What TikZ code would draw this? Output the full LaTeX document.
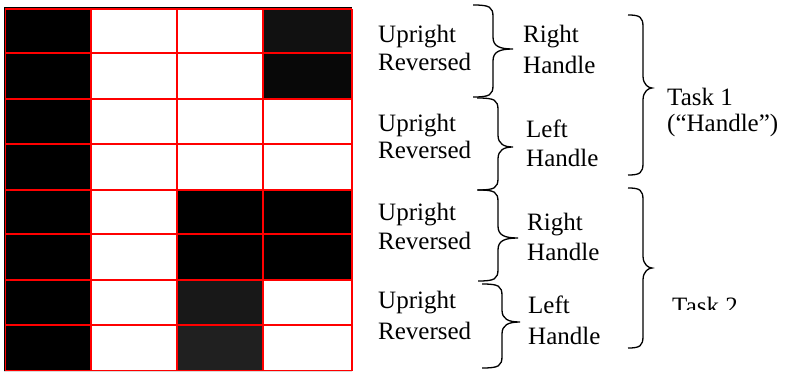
\documentclass[tikz,border=0pt]{standalone}
\usepackage{xcolor}
\usepackage{fontspec}
\setmainfont{Liberation Serif}
\usepackage{tikz}

\definecolor{darkA}{HTML}{111111}
\definecolor{darkB}{HTML}{080808}
\definecolor{darkC}{HTML}{181818}
\definecolor{darkD}{HTML}{202020}

% #1 x of ends, #2 x of stem, #3 x of tip, #4 y top, #5 y tip, #6 y bottom
\newcommand{\curlybr}[6]{%
  \draw[brcline] (#1,#4) .. controls (#2-3,#4) and (#2,#4+2) .. (#2,#4+12)
    -- (#2,#5-12) .. controls (#2,#5-3) and (#2+6,#5) .. (#3,#5)
    .. controls (#2+6,#5) and (#2,#5+3) .. (#2,#5+12)
    -- (#2,#6-12) .. controls (#2,#6-2) and (#2-3,#6) .. (#1,#6);}

\begin{document}
\begin{tikzpicture}[x=1pt,y=-1pt,font=\fontsize{25}{28}\selectfont,
  gridline/.style={red,line width=1.2pt},
  lbl/.style={anchor=base west,inner sep=0pt},
  brcline/.style={black,line width=1.3pt}]
  \useasboundingbox (0,0) rectangle (787,372);
  % the stimulus grid
  \fill[black] (5,9) rectangle (91,371);
  \fill[darkA] (263,9) rectangle (352,53);
  \fill[darkB] (263,53) rectangle (352,99);
  \fill[black] (177,190) rectangle (352,280);
  \fill[darkC] (177,280) rectangle (263,325);
  \fill[darkD] (177,325) rectangle (263,371);
  \foreach \y in {9,53,99,144,190,234,280,325,371}
    \draw[gridline] (5,\y) -- (352,\y);
  \foreach \x in {5,91,177,263,352}
    \draw[gridline] (\x,9) -- (\x,371);
  \draw[black,line width=1pt] (4,371) -- (4,7) -- (352,7);
  \draw[gray!30,line width=1pt] (4,371.7) -- (352,371.7);
  % orientations
  \node[lbl] (up1)  at (378,42)  {Upright};
  \node[lbl] (rev1) at (378,70)  {Reversed};
  \node[lbl] (up2)  at (378,131) {Upright};
  \node[lbl] (rev2) at (378,158) {Reversed};
  \node[lbl] (up3)  at (378,220) {Upright};
  \node[lbl] (rev3) at (378,249) {Reversed};
  \node[lbl] (up4)  at (378,308) {Upright};
  \node[lbl] (rev4) at (378,339) {Reversed};
  % small braces
  \curlybr{473}{493}{513}{5}{49}{97}
  \curlybr{477}{498}{513}{98}{147}{190}
  \curlybr{478}{498}{518}{190}{238}{281}
  \curlybr{482}{502}{520}{284}{322}{368}
  % handle sides
  \node[lbl] (rh1) at (523,42)  {Right};
  \node[lbl] (hd1) at (523,73)  {Handle};
  \node[lbl] (lh2) at (526,137) {Left};
  \node[lbl] (hd2) at (526,166) {Handle};
  \node[lbl] (rh3) at (527,230) {Right};
  \node[lbl] (hd3) at (527,260) {Handle};
  \node[lbl] (lh4) at (528,313) {Left};
  \node[lbl] (hd4) at (528,344) {Handle};
  % task braces
  \curlybr{628}{643}{652}{15}{88}{175}
  \curlybr{628}{643}{652}{188}{268}{348}
  \node[lbl] (task1) at (667,105) {Task 1};
  \node[lbl] (hname) at (667,131) {(“Handle”)};
  \begin{scope}
    \clip (660,285) rectangle (787,309);
    \node[lbl] (task2) at (672,314) {Task 2};
  \end{scope}
\end{tikzpicture}
\end{document}
